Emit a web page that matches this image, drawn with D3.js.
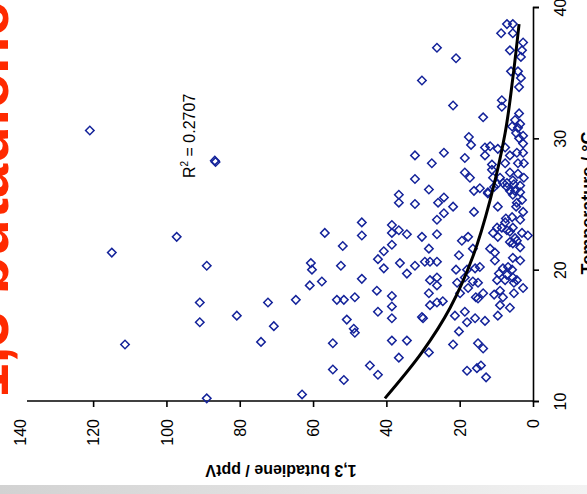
<!DOCTYPE html>
<html>
<head>
    <meta charset="utf-8">
    <script src="https://d3js.org/d3.v7.min.js"></script>
    <style>
        body { margin: 0; background: #fff; overflow: hidden; }
        svg { display: block; }
        text { font-family: "Liberation Sans", Arial, sans-serif; }
    </style>
</head>
<body>
<div id="chart"></div>
<script>
    // tick values of both axes
    var butadieneTicks = [0, 20, 40, 60, 80, 100, 120, 140];
    var temperatureTicks = [10, 20, 30, 40];

    // [1,3 butadiene pptV, temperature °C] - sparse points at high concentration
    var sparsePoints = [
        [120.9, 30.6], [114.9, 21.3], [111.3, 14.3], [97.2, 22.5], [89.0, 20.3],
        [90.9, 17.5], [90.9, 16.0], [89.0, 10.2], [86.8, 28.3], [86.6, 28.2],
        [80.8, 16.5], [74.2, 14.5], [72.3, 17.5], [70.7, 15.7], [64.7, 17.7],
        [63.0, 10.5], [60.6, 20.5], [60.3, 20.0], [60.9, 18.8], [57.6, 19.1],
        [56.8, 22.8], [53.5, 17.7], [51.6, 17.7], [51.9, 21.8], [52.4, 20.3],
        [54.6, 14.4], [54.6, 12.4], [51.6, 11.6], [50.8, 16.2], [48.6, 17.9]
    ];

    // middle range points
    var middlePoints = [
        [26.2, 36.9], [21.0, 36.1], [30.3, 34.4], [21.8, 32.5], [13.6, 31.6],
        [17.5, 30.1], [16.9, 29.5], [13.1, 29.3], [24.3, 28.9], [18.6, 28.5],
        [13.1, 28.7], [32.2, 28.7], [27.6, 28.1], [32.2, 26.9], [18.6, 27.4],
        [17.2, 27.0], [28.4, 26.1], [24.3, 25.5], [36.6, 25.7], [16.1, 26.0],
        [14.5, 26.2], [12.3, 25.9], [36.6, 25.1], [32.2, 25.0], [25.9, 25.1],
        [21.8, 24.8], [24.3, 24.3], [26.2, 23.8], [16.1, 24.4], [46.7, 23.6],
        [46.7, 22.6], [38.5, 23.4], [38.5, 22.8], [36.6, 23.0], [34.4, 22.7],
        [30.3, 22.5], [26.2, 22.7], [19.4, 22.2], [17.7, 22.5], [38.5, 21.9],
        [40.7, 21.4], [28.4, 21.6], [16.4, 21.6], [20.2, 21.1], [42.3, 20.8],
        [40.7, 20.1], [36.3, 20.5], [32.2, 20.3], [29.5, 20.6], [28.1, 20.6],
        [26.2, 20.6], [34.4, 19.7], [46.7, 19.3], [21.0, 20.0], [18.0, 20.0],
        [15.8, 20.1], [14.5, 20.2], [18.6, 19.4], [28.1, 19.2], [26.2, 19.4],
        [26.2, 18.8], [20.7, 19.0], [17.7, 18.6], [16.4, 19.1], [15.0, 19.0],
        [42.6, 18.4], [38.5, 18.0], [38.5, 17.2], [28.4, 18.2], [28.1, 17.3],
        [26.2, 17.5], [24.6, 17.6], [19.9, 18.2], [15.6, 17.9], [13.6, 18.2],
        [15.0, 17.8], [42.3, 16.8], [38.5, 16.3], [30.3, 16.4], [30.0, 16.3],
        [21.3, 16.5], [18.6, 16.8], [18.0, 16.0], [15.8, 16.3], [13.1, 16.1],
        [48.9, 15.5], [48.6, 15.2], [20.2, 15.3], [38.5, 14.6], [34.4, 14.6],
        [21.8, 14.3], [15.0, 14.4], [13.6, 14.0], [28.4, 13.7], [36.6, 13.3],
        [44.5, 12.7], [42.3, 12.0], [18.0, 12.3], [15.3, 12.5], [14.2, 12.7],
        [12.8, 11.8]
    ];

    // dense cluster at low concentration
    var densePoints = [
        [7.1, 38.7], [5.5, 38.7], [8.7, 38.0], [5.5, 38.0], [2.7, 37.3],
        [6.3, 36.7], [3.0, 36.7], [3.3, 36.2], [6.0, 35.1], [4.1, 35.1],
        [3.3, 34.6], [3.8, 33.9], [8.5, 32.9], [8.5, 32.4], [3.8, 31.9],
        [4.9, 31.4], [3.5, 31.1], [5.7, 30.9], [4.1, 30.8], [4.6, 30.4],
        [2.7, 30.2], [3.8, 30.0], [2.7, 29.6], [7.6, 29.3], [11.7, 29.4],
        [9.6, 29.2], [6.3, 28.7], [4.4, 28.9], [2.7, 28.9], [11.2, 28.0],
        [7.6, 28.1], [4.1, 28.1], [2.5, 28.1], [11.2, 27.6], [6.3, 27.4],
        [4.1, 27.3], [9.0, 27.0], [5.5, 26.8], [2.5, 27.0], [10.9, 27.0],
        [7.1, 26.6], [5.2, 26.5], [3.5, 26.4], [10.6, 26.3], [7.1, 26.3],
        [6.3, 26.0], [4.9, 26.0], [3.5, 25.9], [9.8, 26.5], [8.2, 26.6],
        [12.3, 25.8], [5.5, 25.7], [3.0, 25.3], [4.4, 25.1], [9.6, 24.8],
        [4.6, 24.8], [2.7, 24.4], [5.7, 24.0], [7.4, 23.9], [3.5, 23.8],
        [7.6, 23.6], [9.8, 23.2], [8.5, 23.2], [7.1, 23.0], [5.5, 23.2],
        [10.9, 22.8], [9.6, 22.5], [6.3, 22.9], [3.0, 22.8], [1.4, 22.6],
        [4.9, 22.4], [6.3, 22.1], [4.4, 22.2], [11.7, 21.6], [3.5, 21.7],
        [5.5, 22.0], [10.4, 21.3], [10.4, 20.7], [5.5, 20.9], [3.5, 20.7],
        [8.2, 20.1], [6.8, 20.2], [5.7, 20.0], [9.3, 19.7], [7.1, 19.6],
        [5.5, 19.4], [4.4, 19.2], [9.8, 19.2], [7.6, 19.2], [5.2, 19.0],
        [2.7, 18.6], [9.0, 18.4], [5.2, 18.2], [10.6, 18.1], [8.2, 17.9],
        [9.0, 17.3], [6.3, 17.1], [9.6, 16.5]
    ];

    // exponential trend line
    var trendPoints = [
        [40.4, 10.2], [30.3, 13.7], [22.6, 17.1], [16.4, 21.0],
        [11.7, 25.3], [7.6, 30.4], [5.5, 34.6], [3.8, 38.7]
    ];

    var rSquared = "0.2707";

    var width = 587, height = 494;

    var svg = d3.select("#chart")
        .append("svg")
        .attr("width", width)
        .attr("height", height);

    // grey band at the bottom of the slide
    var grad = svg.append("defs").append("linearGradient").attr("id", "band");
    grad.append("stop").attr("offset", "0%").attr("stop-color", "#d2d2d2");
    grad.append("stop").attr("offset", "100%").attr("stop-color", "#f2f2f2");
    svg.append("rect")
        .attr("x", 0).attr("y", 485)
        .attr("width", width).attr("height", 9)
        .attr("fill", "url(#band)");

    // red slide title, mostly cut by the left edge
    svg.append("text")
        .attr("transform", "translate(8,398) rotate(-90)")
        .attr("font-size", 62)
        .attr("font-weight", "bold")
        .attr("fill", "#ff2a00")
        .text("1,3 butadiene");

    // scales: butadiene runs right to left, temperature bottom to top
    var x = d3.scaleLinear().domain([0, 140]).range([533, 19.8]);
    var y = d3.scaleLinear().domain([10, 40]).range([401, 7]);

    // butadiene axis
    var gx = svg.append("g")
        .attr("transform", "translate(0," + y(10) + ")")
        .call(d3.axisBottom(x).tickValues(butadieneTicks).tickSize(6).tickSizeOuter(0).tickFormat(d3.format("d")));
    gx.select(".domain").attr("d", "M27,0H" + x(0));
    gx.selectAll(".tick line").filter(function (d) { return d === 140; }).remove();
    gx.selectAll(".tick text")
        .attr("x", null).attr("y", null)
        .attr("dy", "0.35em")
        .attr("text-anchor", "end")
        .attr("transform", "translate(0,18) rotate(-90)");

    // temperature axis
    var gy = svg.append("g")
        .attr("transform", "translate(" + x(0) + ",0)")
        .call(d3.axisRight(y).tickValues(temperatureTicks).tickSize(6));
    gy.selectAll(".tick text")
        .attr("x", null).attr("dy", null)
        .attr("text-anchor", "middle")
        .attr("transform", "translate(33,0) rotate(-90)");

    svg.selectAll(".domain, .tick line").attr("stroke", "#000").attr("stroke-width", 1.6);
    svg.selectAll(".tick text").attr("font-size", 16).attr("fill", "#000")
        .attr("font-family", "'Liberation Sans', Arial, sans-serif");

    // axis titles
    svg.append("text")
        .attr("transform", "translate(281,471) rotate(180)")
        .attr("text-anchor", "middle")
        .attr("dy", "0.35em")
        .attr("font-size", 16)
        .attr("font-weight", "bold")
        .text("1,3 butadiene / pptV");

    svg.append("text")
        .attr("transform", "translate(594,203) rotate(-90)")
        .attr("text-anchor", "middle")
        .attr("font-size", 18)
        .attr("font-weight", "bold")
        .text("Temperature / °C");

    // scatter points as open diamonds
    var allPoints = sparsePoints.concat(middlePoints, densePoints);
    svg.append("g")
        .selectAll("path")
        .data(allPoints)
        .join("path")
        .attr("d", d3.symbol(d3.symbolSquare, 36))
        .attr("transform", function (d) { return "translate(" + x(d[0]) + "," + y(d[1]) + ") rotate(45)"; })
        .attr("fill", "none")
        .attr("stroke", "#14239a")
        .attr("stroke-width", 1.5);

    // trend line
    var line = d3.line()
        .x(function (d) { return x(d[0]); })
        .y(function (d) { return y(d[1]); })
        .curve(d3.curveCatmullRom);
    svg.append("path")
        .datum(trendPoints)
        .attr("d", line)
        .attr("fill", "none")
        .attr("stroke", "#000")
        .attr("stroke-width", 3);

    // R squared label
    var rLabel = svg.append("text")
        .attr("transform", "translate(195,178) rotate(-90)")
        .attr("font-size", 16);
    rLabel.append("tspan").text("R");
    rLabel.append("tspan").attr("font-size", 10).attr("dy", -7).text("2");
    rLabel.append("tspan").attr("dy", 7).text(" = " + rSquared);
</script>
</body>
</html>
